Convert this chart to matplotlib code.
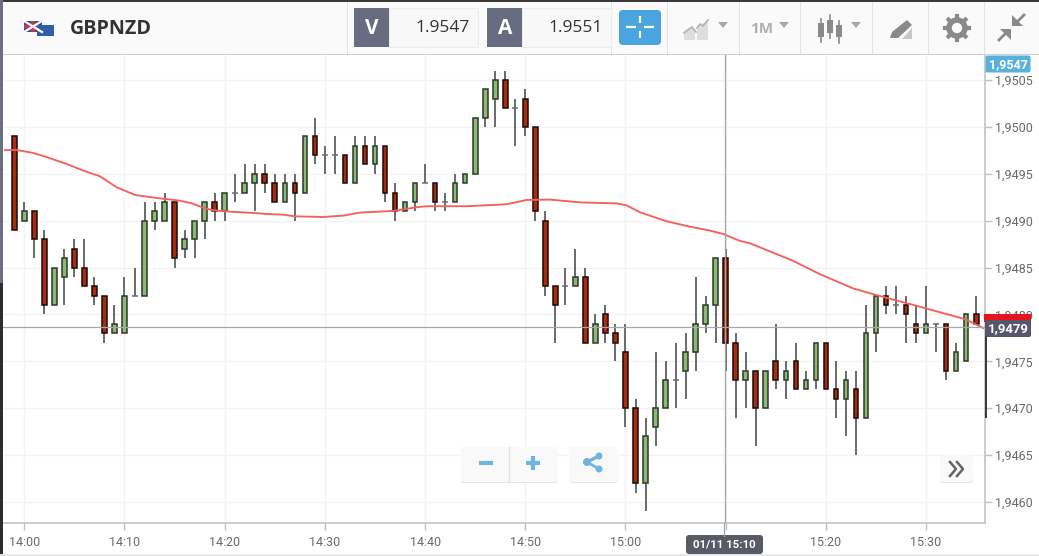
import numpy as np
import matplotlib
matplotlib.use("Agg")
import matplotlib.pyplot as plt
from matplotlib.patches import Rectangle, FancyBboxPatch, Polygon, Circle

# candles, one per minute, minute 0 is 14:00
first_minute = -1
opens = [1.9499, 1.9490, 1.9491, 1.9488, 1.9481, 1.9484, 1.9487, 1.9485, 1.9483, 1.9482, 1.9478, 1.9478, 1.9482, 1.9482,
         1.9490, 1.9490, 1.9492, 1.9487, 1.9488, 1.9490, 1.9492, 1.9491, 1.9493, 1.9493, 1.9494, 1.9495, 1.9494, 1.9492,
         1.9494, 1.9493, 1.9499, 1.9497, 1.9497, 1.9497, 1.9494, 1.9498, 1.9496, 1.9498, 1.9493, 1.9491, 1.9492, 1.9494,
         1.9494, 1.9492, 1.9492, 1.9494, 1.9495, 1.9501, 1.9503, 1.9505, 1.9502, 1.9503, 1.9500, 1.9490, 1.9483, 1.9483,
         1.9483, 1.9484, 1.9477, 1.9480, 1.9478, 1.9476, 1.9470, 1.9462, 1.9468, 1.9470, 1.9473, 1.9474, 1.9476, 1.9479,
         1.9481, 1.9486, 1.9477, 1.9473, 1.9474, 1.9470, 1.9475, 1.9473, 1.9475, 1.9472, 1.9473, 1.9477, 1.9472, 1.9471,
         1.9472, 1.9469, 1.9478, 1.9482, 1.9481, 1.9481, 1.9479, 1.9478, 1.9479, 1.9479, 1.9474, 1.9475, 1.9480, 1.9479]
highs = [1.9499, 1.9492, 1.9491, 1.9489, 1.9485, 1.9487, 1.9488, 1.9488, 1.9484, 1.9482, 1.9481, 1.9484, 1.9485, 1.9492,
         1.9492, 1.9493, 1.9492, 1.9489, 1.9490, 1.9492, 1.9493, 1.9493, 1.9495, 1.9496, 1.9496, 1.9496, 1.9495, 1.9495,
         1.9495, 1.9499, 1.9501, 1.9498, 1.9499, 1.9497, 1.9499, 1.9499, 1.9499, 1.9498, 1.9494, 1.9492, 1.9494, 1.9496,
         1.9494, 1.9493, 1.9495, 1.9495, 1.9501, 1.9504, 1.9506, 1.9506, 1.9503, 1.9504, 1.9500, 1.9491, 1.9483, 1.9485,
         1.9487, 1.9485, 1.9480, 1.9481, 1.9479, 1.9479, 1.9471, 1.9469, 1.9476, 1.9475, 1.9477, 1.9478, 1.9484, 1.9482,
         1.9486, 1.9487, 1.9478, 1.9476, 1.9474, 1.9474, 1.9479, 1.9475, 1.9477, 1.9474, 1.9477, 1.9477, 1.9475, 1.9474,
         1.9474, 1.9481, 1.9482, 1.9483, 1.9483, 1.9482, 1.9481, 1.9483, 1.9479, 1.9479, 1.9477, 1.9480, 1.9482, 1.9479]
lows = [1.9489, 1.9490, 1.9486, 1.9480, 1.9481, 1.9481, 1.9484, 1.9483, 1.9481, 1.9477, 1.9478, 1.9478, 1.9482, 1.9482,
        1.9489, 1.9490, 1.9485, 1.9486, 1.9486, 1.9488, 1.9490, 1.9490, 1.9492, 1.9493, 1.9491, 1.9493, 1.9492, 1.9492,
        1.9490, 1.9493, 1.9496, 1.9495, 1.9495, 1.9494, 1.9494, 1.9496, 1.9495, 1.9492, 1.9490, 1.9491, 1.9491, 1.9494,
        1.9491, 1.9491, 1.9492, 1.9494, 1.9495, 1.9500, 1.9500, 1.9502, 1.9498, 1.9499, 1.9490, 1.9482, 1.9477, 1.9481,
        1.9483, 1.9477, 1.9477, 1.9477, 1.9475, 1.9468, 1.9461, 1.9459, 1.9466, 1.9470, 1.9470, 1.9471, 1.9474, 1.9478,
        1.9477, 1.9474, 1.9469, 1.9470, 1.9466, 1.9470, 1.9472, 1.9471, 1.9472, 1.9472, 1.9472, 1.9472, 1.9469, 1.9467,
        1.9465, 1.9469, 1.9476, 1.9480, 1.9480, 1.9477, 1.9477, 1.9478, 1.9476, 1.9473, 1.9474, 1.9475, 1.9479, 1.9469]
closes = [1.9489, 1.9491, 1.9488, 1.9481, 1.9485, 1.9486, 1.9485, 1.9483, 1.9482, 1.9478, 1.9479, 1.9482, 1.9482, 1.9490,
          1.9491, 1.9492, 1.9486, 1.9488, 1.9490, 1.9492, 1.9491, 1.9493, 1.9493, 1.9494, 1.9495, 1.9494, 1.9492, 1.9494,
          1.9493, 1.9499, 1.9497, 1.9497, 1.9497, 1.9494, 1.9498, 1.9496, 1.9498, 1.9493, 1.9491, 1.9492, 1.9494, 1.9494,
          1.9492, 1.9492, 1.9494, 1.9495, 1.9501, 1.9504, 1.9505, 1.9502, 1.9502, 1.9500, 1.9491, 1.9483, 1.9481, 1.9483,
          1.9484, 1.9477, 1.9479, 1.9478, 1.9477, 1.9470, 1.9462, 1.9467, 1.9470, 1.9473, 1.9473, 1.9476, 1.9479, 1.9481,
          1.9486, 1.9477, 1.9473, 1.9474, 1.9470, 1.9474, 1.9473, 1.9474, 1.9472, 1.9473, 1.9477, 1.9472, 1.9471, 1.9473,
          1.9469, 1.9478, 1.9482, 1.9481, 1.9481, 1.9480, 1.9478, 1.9479, 1.9479, 1.9474, 1.9476, 1.9480, 1.9479, 1.9479]

# moving average line
ema_minutes = [-1.93, -0.76, 0.90, 2.07, 4.23, 5.89, 7.55, 9.22, 11.05, 13.21, 15.54, 16.71, 18.03, 18.87, 20.53, 23.52,
               24.19, 25.85, 27.02, 29.84, 31.84, 33.50, 36.83, 39.16, 40.16, 44.15, 48.14, 50.14, 52.46, 55.46, 59.12,
               60.12, 61.45, 64.11, 66.44, 68.43, 69.76, 71.43, 72.42, 76.75, 79.41, 82.73, 85.07, 89.39, 93.88, 95.71]
ema_values = [1.949754, 1.949754, 1.949722, 1.949683, 1.949605, 1.949534, 1.949473, 1.949356, 1.949274, 1.949242, 1.949213,
              1.949185, 1.949132, 1.949110, 1.949096, 1.949078, 1.949071, 1.949064, 1.949046, 1.949039, 1.949054, 1.949086,
              1.949104, 1.949143, 1.949154, 1.949154, 1.949175, 1.949221, 1.949225, 1.949195, 1.949184, 1.949163, 1.949089,
              1.948993, 1.948936, 1.948894, 1.948858, 1.948784, 1.948759, 1.948571, 1.948429, 1.948277, 1.948206, 1.948082,
              1.947950, 1.947855]

x_tick_minutes = [0, 10, 20, 30, 40, 50, 60, 70, 80, 90]
x_tick_labels = ["14:00", "14:10", "14:20", "14:30", "14:40", "14:50", "15:00", "", "15:20", "15:30"]
y_ticks = [1.9460, 1.9465, 1.9470, 1.9475, 1.9480, 1.9485, 1.9490, 1.9495, 1.9500, 1.9505]

symbol = "GBPNZD"
bid = "1.9547"
ask = "1.9551"
bid_label = "1,9547"
last_label = "1,9479"
cross_label = "01/11 15:10"
cross_minute = 69.95
cross_price = 1.94787

W, H = 1039, 556
plt.rcParams["font.family"] = ["Roboto", "DejaVu Sans"]
fig = plt.figure(figsize=(W / 100, H / 100), dpi=100, facecolor="white")

# overlay in pixel coordinates for the platform toolbar and buttons
ui = fig.add_axes([0, 0, 1, 1], zorder=5)
ui.set_xlim(0, W)
ui.set_ylim(H, 0)
ui.axis("off")
ui.patch.set_alpha(0)

L, R, T, B = 3, 985, 54, 523
ax = fig.add_axes([L / W, 1 - B / H, (R - L) / W, (B - T) / H], zorder=1)
ax.set_xlim((L - 24.3) / 10.02, (R - 24.3) / 10.02)
ax.set_ylim(1.9460 - (B - 502) / 93780, 1.9505 + (80 - T) / 93780)

minutes = np.arange(len(opens)) + first_minute
opens = np.array(opens)
highs = np.array(highs)
lows = np.array(lows)
closes = np.array(closes)

ax.vlines(minutes[:-1], lows[:-1], highs[:-1], color="#5c6060", lw=1.3, zorder=2)
# the last candle sits on the axis edge, its wick is much darker there
ax.vlines(minutes[-1:], lows[-1:], highs[-1:], color="#2a2a2a", lw=1.3, zorder=2, clip_on=False)
up = closes > opens
down = closes < opens
flat = (closes == opens) & (minutes < 96)
ax.bar(minutes[up], (closes - opens)[up], bottom=opens[up], width=0.46, color="#8db977",
       edgecolor="#2c3a28", lw=1.1, zorder=3)
ax.bar(minutes[down], (opens - closes)[down], bottom=closes[down], width=0.46, color="#a82c10",
       edgecolor="#1c0a06", lw=1.1, zorder=3)
ax.hlines(opens[flat], minutes[flat] - 0.3, minutes[flat] + 0.3, color="#6a6e6e", lw=1.1, zorder=3)
ax.plot(ema_minutes, ema_values, color="#f4605c", lw=1.35, zorder=4)

# crosshair
ax.axvline(cross_minute, color="#a4a4a4", lw=0.9, zorder=5)
ax.axhline(cross_price, color="#a8a8a8", lw=0.9, zorder=5)

ax.set_xticks(x_tick_minutes)
ax.set_xticklabels(x_tick_labels)
ax.set_yticks(y_ticks)
ax.set_yticklabels([("%.4f" % v).replace(".", ",") for v in y_ticks])
ax.yaxis.tick_right()
ax.tick_params(axis="both", colors="#c0c0c0", labelcolor="#6a6a6a", labelsize=9, length=5, width=1, pad=2)
ax.tick_params(axis="x", pad=4)
ax.grid(True, color="#f3f3f3", lw=1)
ax.set_axisbelow(True)
for name, spine in ax.spines.items():
    spine.set_color("#c4c4c4")
    spine.set_linewidth(1.2)
    spine.set_zorder(1)
ax.spines["left"].set_visible(False)
ax.spines["top"].set_visible(False)

# toolbar
ui.add_patch(Rectangle((0, 0), W, 54, fc="#fafafa", ec="none"))
ui.add_patch(Rectangle((0, 0), W, 2, fc="#3a3a3a", ec="none"))
ui.add_patch(Rectangle((0, 54), W, 1, fc="#cfcfcf", ec="none"))
ui.add_patch(Rectangle((0, 0), 3, 283, fc="#6a6e80", ec="none"))
ui.add_patch(Rectangle((0, 283), 3, 273, fc="#2e2e2e", ec="none"))
ui.add_patch(Rectangle((0, 554), W, 2, fc="#e8e8e8", ec="none"))
for x in [347, 611, 667, 739, 800, 872, 928, 984]:
    ui.add_patch(Rectangle((x, 2), 1, 52, fc="#e2e2e2", ec="none"))
ui.plot([724.4, 724.4], [523, 536], color="#a4a4a4", lw=0.9)

# flag
ui.add_patch(Rectangle((24, 21), 18, 11, fc="#3d4a8f", ec="none"))
ui.plot([24, 42], [21, 32], color="white", lw=1.6)
ui.plot([24, 42], [32, 21], color="white", lw=1.6)
ui.add_patch(Rectangle((24, 25), 18, 3, fc="#d0344a", ec="none"))
ui.add_patch(Rectangle((31, 21), 4, 11, fc="#d0344a", ec="none"))
ui.add_patch(Rectangle((37, 25), 17, 11, fc="#2f5fa8", ec="none"))
ui.text(70, 28.5, symbol, fontsize=14.2, fontweight="bold", color="#333333", va="center", ha="left",
        family="Open Sans")

# bid / ask boxes
for x0, letter, price in [(354, "V", bid), (487, "A", ask)]:
    ui.add_patch(Rectangle((x0 + 35, 8), 89, 39, fc="#f8f8f8", ec="#ececec", lw=0.8))
    ui.add_patch(Rectangle((x0, 8), 35, 39, fc="#686c80", ec="none"))
    ui.text(x0 + 18, 28, letter, fontsize=15, fontweight="bold", color="white", ha="center", va="center",
            family="Open Sans")
    ui.text(x0 + 116, 28, price, fontsize=12.5, color="#333333", ha="right", va="center", family="Open Sans")

# crosshair button
ui.add_patch(FancyBboxPatch((621, 12), 38, 31, boxstyle="round,pad=2,rounding_size=4", fc="#4ba3e0", ec="none"))
for seg in [([626, 636], [27, 27]), ([644, 654], [27, 27]), ([640, 640], [16, 23]), ([640, 640], [31, 38])]:
    ui.plot(seg[0], seg[1], color="white", lw=1.6, solid_capstyle="butt")

# toolbar icons
grey = "#a8a8a8"
ui.add_patch(Polygon([(684, 40), (684, 31), (692, 26), (695, 30), (695, 40)], fc="#dedede", ec="none"))
ui.add_patch(Polygon([(697, 40), (697, 26), (708, 21), (708, 40)], fc="#dedede", ec="none"))
ui.plot([684, 692, 696], [33, 27, 32], color="#b4b4b4", lw=1.2)
ui.plot([697, 700, 703, 708], [28, 24, 26, 20], color="#b4b4b4", lw=1.2)
for cx in [723, 784, 856]:
    ui.add_patch(Polygon([(cx - 5, 22), (cx + 5, 22), (cx, 28)], fc=grey, ec="none"))
ui.text(762, 29, "1M", fontsize=11, fontweight="bold", color="#b0b0b0", ha="center", va="center", family="Open Sans")
for cx, top, bot, y0, y1 in [(821, 19, 42, 23, 37), (830, 15, 38, 20, 33), (839, 21, 43, 25, 37)]:
    ui.plot([cx, cx], [top, bot], color="#8a8a8a", lw=1.2)
    ui.add_patch(Rectangle((cx - 3, y0), 6, y1 - y0, fc="#8a8a8a", ec="none"))
ui.add_patch(Polygon([(890, 38), (892, 32), (907, 20), (912, 25), (898, 38)], fc="#8a8a8a", ec="none"))
ui.add_patch(Polygon([(902, 39), (912, 28), (912, 39)], fc="#c8c8c8", ec="none"))
ui.add_patch(Circle((957, 28), 8, fc="none", ec="#8a8a8a", lw=4))
for a in np.arange(0, 360, 45):
    ui.plot([957 + 8 * np.cos(np.radians(a)), 957 + 12 * np.cos(np.radians(a))],
            [28 + 8 * np.sin(np.radians(a)), 28 + 12 * np.sin(np.radians(a))], color="#8a8a8a", lw=3)
ui.add_patch(Polygon([(1012, 26), (1023, 26), (1012, 15)], fc="#8a8a8a", ec="none"))
ui.plot([1018, 1024], [21, 15], color="#8a8a8a", lw=2)
ui.add_patch(Polygon([(1000, 29), (1011, 29), (1011, 40)], fc="#8a8a8a", ec="none"))
ui.plot([999, 1005], [40, 34], color="#8a8a8a", lw=2)

# price labels on the right
ui.add_patch(FancyBboxPatch((986, 56), 44, 16, boxstyle="round,pad=0.5,rounding_size=2", fc="#5ab0dc", ec="none"))
ui.text(1008, 64.5, bid_label, fontsize=9, fontweight="bold", color="white", ha="center", va="center")
ui.add_patch(Rectangle((984, 314), 47, 8, fc="#e8141c", ec="none"))
ui.add_patch(FancyBboxPatch((985, 320), 46, 17, boxstyle="round,pad=0,rounding_size=2", fc="#57566a", ec="none"))
ui.text(1008, 328.5, last_label, fontsize=9.5, fontweight="bold", color="white", ha="center", va="center")

# crosshair date box
ui.add_patch(FancyBboxPatch((686, 535), 77, 19, boxstyle="round,pad=0,rounding_size=3", fc="#585a68", ec="none"))
ui.text(724.5, 544.5, cross_label, fontsize=8.2, fontweight="bold", color="white", ha="center", va="center")

# zoom, share and scroll buttons
for x0, x1, y0, y1 in [(461, 558, 447, 482), (569, 618, 447, 482), (940, 973, 455, 482)]:
    ui.add_patch(FancyBboxPatch((x0, y0 + 1), x1 - x0, y1 - y0, boxstyle="round,pad=0,rounding_size=3",
                                fc="#e4e4e4", ec="none"))
    ui.add_patch(FancyBboxPatch((x0, y0), x1 - x0, y1 - y0, boxstyle="round,pad=0,rounding_size=3",
                                fc="#f9f9f9", ec="none"))
ui.plot([508.5, 508.5], [447, 482], color="#e0e0e0", lw=1)
blue = "#72b4e0"
ui.plot([479, 493], [463, 463], color=blue, lw=3, solid_capstyle="butt")
ui.plot([526, 540], [463, 463], color=blue, lw=3, solid_capstyle="butt")
ui.plot([533, 533], [456, 470], color=blue, lw=3, solid_capstyle="butt")
ui.plot([587, 599, 587], [462, 456, 462], color=blue, lw=2)
ui.plot([587, 599], [462, 469], color=blue, lw=2)
for cx, cy, r in [(587, 462, 4), (599, 456, 3.5), (599, 469, 3.5)]:
    ui.add_patch(Circle((cx, cy), r, fc=blue, ec="none"))
ui.plot([950, 956, 950], [462, 469, 476], color="#666666", lw=1.8)
ui.plot([957, 963, 957], [462, 469, 476], color="#666666", lw=1.8)

fig.savefig("out.png", dpi=100)
